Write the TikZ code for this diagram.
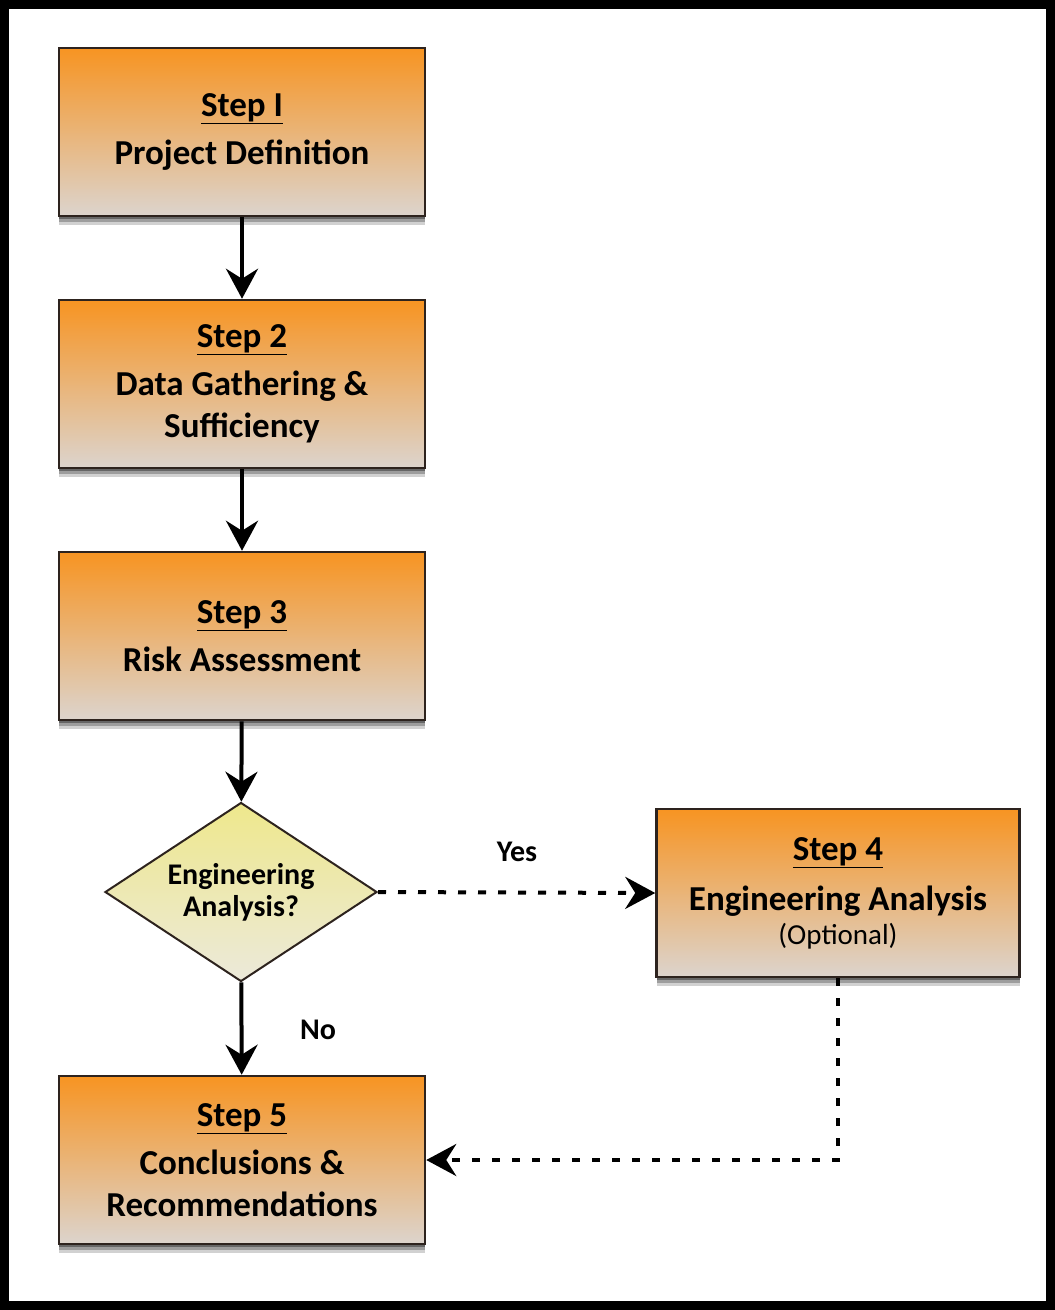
\documentclass[tikz,border=0pt]{standalone}
\usepackage{fontspec}
\setmainfont{Carlito}
\usetikzlibrary{shapes.geometric,arrows.meta,shadows}
\definecolor{boxtop}{RGB}{247,148,34}
\definecolor{boxbot}{RGB}{220,212,205}
\definecolor{dtop}{RGB}{238,232,140}
\definecolor{dbot}{RGB}{236,233,218}
\definecolor{edge}{RGB}{45,35,30}
\tikzset{
  stepbox/.style={rectangle, draw=edge, line width=2.5pt, minimum width=366pt, minimum height=168pt,
    top color=boxtop, bottom color=boxbot, align=center, inner sep=0pt,
    font=\bfseries\fontsize{35}{48}\selectfont,
    drop shadow={shadow xshift=0pt, shadow yshift=-9pt, opacity=0.18, fill=black},
    drop shadow={shadow xshift=0pt, shadow yshift=-6pt, opacity=0.25, fill=black},
    drop shadow={shadow xshift=0pt, shadow yshift=-3pt, opacity=0.35, fill=black}},
  decision/.style={diamond, draw=edge, line width=2pt, minimum width=272pt, minimum height=179pt,
    aspect=1.52, inner sep=0pt, top color=dtop, bottom color=dbot, align=center,
    font=\bfseries\fontsize{30}{34}\selectfont},
  flow/.style={line width=4pt, -{Stealth[length=30pt,width=32pt,inset=10pt]}},
  dflow/.style={line width=4pt, dash pattern=on 8pt off 12pt, -{Stealth[length=30pt,width=32pt,inset=10pt]}},
  lbl/.style={font=\bfseries\fontsize{30}{34}\selectfont}
}
\begin{document}
\begin{tikzpicture}[x=1pt,y=-1pt]
\useasboundingbox (0,0) rectangle (1055,1310);
\draw[line width=9pt] (4.5,4.5) rectangle (1050.5,1305.5);
\node[stepbox] (s1) at (242,132) {\underline{Step I}\\Project Definition};
\node[stepbox] (s2) at (242,384) {\underline{Step 2}\\Data Gathering \&\\[-6pt]Sufficiency};
\node[stepbox] (s3) at (242,636) {\underline{Step 3}\\Risk Assessment};
\node[decision] (d) at (241,892) {Engineering\\[-2pt]Analysis?};
\node[stepbox, minimum width=363pt] (s4) at (838,893) {\underline{Step 4}\\[2pt]Engineering Analysis\\[-14pt]{\mdseries\fontsize{29}{34}\selectfont(Optional)}};
\node[stepbox] (s5) at (242,1160) {\underline{Step 5}\\Conclusions \&\\[-6pt]Recommendations};
\draw[flow] (s1) -- (s2);
\draw[flow] (s2) -- (s3);
\draw[flow] (s3) -- (d);
\draw[flow] (d) -- (s5);
\draw[dflow] (d.east) -- (s4.west);
\coordinate (c) at (s4.south |- 0,1160);
\draw[dflow] (s4.south) -- (c) -- (s5.east |- c);
\node[lbl] (yes) at (517,852) {Yes};
\node[lbl] (no) at (318,1030) {No};
\end{tikzpicture}
\end{document}
